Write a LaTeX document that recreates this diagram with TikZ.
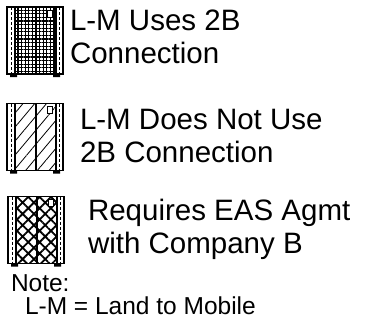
\documentclass[tikz,border=0pt]{standalone}
\usepackage{fontspec}
\setmainfont{Liberation Sans}
\usetikzlibrary{patterns.meta}

\begin{document}
\begin{tikzpicture}[
  x=1pt,
  y=-1pt,
  inner sep=0pt,
  outer sep=0pt,
  every node/.append style={
    font=\fontsize{29.5}{33}\selectfont,
    align=left,
  },
  booth/.style={minimum width=56pt, minimum height=67pt},
  notetext/.style={font=\fontsize{24.5}{20}\selectfont},
]
  \useasboundingbox (0,0) rectangle (366,327);
  \begin{scope}[line width=1.2pt]
    \def\Booth#1#2#3{
      \path node[booth] (#1) at #2 {};
      \fill[pattern={#3}]
        ([xshift=8pt]#1.north west) rectangle ([xshift=-7pt]#1.south east)
      ;
      \draw
        ([xshift=8pt]#1.north west) -- ([xshift=8pt]#1.south west)
        ([xshift=1pt]#1.north) -- ([xshift=1pt]#1.south)
        ([xshift=-7pt]#1.north east) -- ([xshift=-7pt]#1.south east)
      ;
      \draw[densely dashed, line width=0.5pt]
        ([xshift=4pt]#1.north west) -- ([xshift=4pt]#1.south west)
        ([xshift=-3.5pt]#1.north east) -- ([xshift=-3.5pt]#1.south east)
      ;
      \draw[fill=white, line width=0.6pt]
        ([xshift=-16pt,yshift=-3pt]#1.north east) rectangle ++(5,7)
      ;
      \draw[line width=1.8pt] (#1.north west) rectangle (#1.south east);
      \fill
        ([xshift=3pt]#1.south west) rectangle ++(7,3)
        ([xshift=-10pt]#1.south east) rectangle ++(7,3)
      ;%
    }
    \Booth{b1}{(35,40.5)}{Hatch[distance=3.6pt,line width=1.1pt]}
    \Booth{b2}{(35,137)}{Lines[angle=50,distance=9pt,line width=0.8pt]}
    \Booth{b3}{(36,230)}{Hatch[angle=45,distance=8pt,line width=1.8pt]}
  \end{scope}
  \node[anchor=base west] (t1) at (70,63) {L-M Uses 2B\\Connection};
  \node[anchor=base west] (t2) at (80,162) {L-M Does Not Use\\2B Connection};
  \node[anchor=base west] (t3) at (88,253) {Requires EAS Agmt\\with Company B};
  \node[notetext, anchor=base west] (note) at (11,291) {Note:};
  \node[notetext, anchor=base west] (lm) at (25,314) {L-M = Land to Mobile};
\end{tikzpicture}
\end{document}
